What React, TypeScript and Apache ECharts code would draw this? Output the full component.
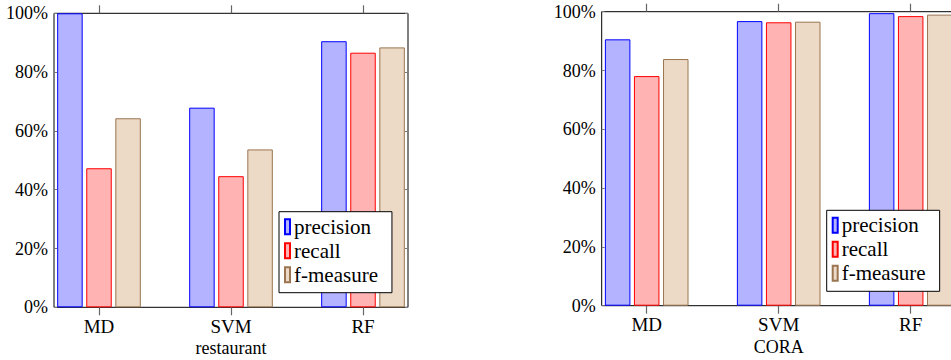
import React, { useEffect, useRef } from "react";
import * as echarts from "echarts";

const categories = ["MD", "SVM", "RF"];
const seriesNames = ["precision", "recall", "f-measure"];
const restaurantPrecision = [100, 67.9, 90.5];
const restaurantRecall = [47.3, 44.6, 86.6];
const restaurantFMeasure = [64.3, 53.7, 88.4];
const coraPrecision = [90.6, 96.8, 99.5];
const coraRecall = [78.1, 96.4, 98.5];
const coraFMeasure = [83.9, 96.6, 99.0];
const datasetNames = ["restaurant", "CORA"];
const yTicks = [0, 20, 40, 60, 80, 100];

const FONT = "'Liberation Serif', 'Times New Roman', serif";
const fills = ["#b3b3ff", "#ffb3b3", "#ecd9c6"];
const strokes = ["#0000ff", "#ff0000", "#9a7550"];

export default function App() {
  const ref = useRef<HTMLDivElement>(null);
  useEffect(() => {
    document.body.style.margin = "0";
    const chart = echarts.init(ref.current!, null, { renderer: "svg" });
    const frames = [
      { left: 54, top: 13.3, width: 354, height: 294 },
      { left: 601.7, top: 11.7, width: 354, height: 294 },
    ];
    const inset = 45;
    const grids: any[] = [];
    const xAxes: any[] = [];
    const yAxes: any[] = [];
    const series: any[] = [];
    const allData = [
      [restaurantPrecision, restaurantRecall, restaurantFMeasure],
      [coraPrecision, coraRecall, coraFMeasure],
    ];
    const xTickStyle = { color: "#666", width: 1.2 };
    const yTickStyle = { color: "#777", width: 1 };
    const hiddenLine = { show: true, onZero: false, lineStyle: { color: "rgba(0,0,0,0)", width: 1 } };

    frames.forEach((f, fi) => {
      const frameIdx = grids.length;
      grids.push({
        ...f,
        show: true,
        borderColor: "#000",
        borderWidth: 1,
        backgroundColor: "transparent",
        containLabel: false,
        outerBoundsMode: "none",
      });
      const dataIdx = grids.length;
      grids.push({
        left: f.left + inset,
        top: f.top,
        width: f.width - 2 * inset,
        height: f.height,
        show: false,
        containLabel: false,
        outerBoundsMode: "none",
      });

      xAxes.push({ type: "value", gridIndex: frameIdx, show: false, min: 0, max: 1 });
      yAxes.push({
        type: "value",
        gridIndex: frameIdx,
        position: "left",
        min: 0,
        max: 100,
        interval: 20,
        axisLine: hiddenLine,
        splitLine: { show: false },
        axisTick: { show: true, inside: true, length: 3, lineStyle: yTickStyle },
        axisLabel: {
          formatter: (v: number) => (yTicks.includes(v) ? v + "%" : ""),
          margin: 6,
          fontFamily: FONT,
          fontSize: 18,
          color: "#000",
        },
      });
      yAxes.push({
        type: "value",
        gridIndex: frameIdx,
        position: "right",
        min: 0,
        max: 100,
        interval: 20,
        axisLine: hiddenLine,
        splitLine: { show: false },
        axisTick: { show: true, inside: true, length: 3, lineStyle: yTickStyle },
        axisLabel: { show: false },
      });

      const xBottomIdx = xAxes.length;
      xAxes.push({
        type: "category",
        gridIndex: dataIdx,
        position: "bottom",
        data: categories,
        boundaryGap: false,
        axisLine: hiddenLine,
        splitLine: { show: false },
        axisTick: { show: true, inside: false, length: 8, interval: 0, lineStyle: xTickStyle },
        axisLabel: {
          interval: 0,
          margin: 10,
          fontFamily: FONT,
          fontSize: 19,
          lineHeight: 18,
          color: "#000",
        },
        name: datasetNames[fi],
        nameLocation: "middle",
        nameGap: 41,
        nameMoveOverlap: false,
        nameTextStyle: { fontFamily: FONT, fontSize: 18, lineHeight: 17, color: "#000", verticalAlign: "middle" },
      });
      xAxes.push({
        type: "category",
        gridIndex: dataIdx,
        position: "top",
        data: categories,
        boundaryGap: false,
        axisLine: hiddenLine,
        splitLine: { show: false },
        axisTick: { show: true, inside: false, length: 8, interval: 0, lineStyle: xTickStyle },
        axisLabel: { show: false },
      });
      const yDataIdx = yAxes.length;
      yAxes.push({ type: "value", gridIndex: dataIdx, min: 0, max: 100, show: false });

      allData[fi].forEach((vals, si) => {
        series.push({
          type: "bar",
          name: seriesNames[si],
          xAxisIndex: xBottomIdx,
          yAxisIndex: yDataIdx,
          barWidth: 25.5,
          barGap: "14%",
          data: vals,
          itemStyle: { color: fills[si], borderColor: strokes[si], borderWidth: 1 },
          emphasis: { disabled: true },
        });
      });
    });

    const legendBase = {
      orient: "vertical",
      icon: "rect",
      itemWidth: 5,
      itemHeight: 15,
      itemGap: 2,
      align: "left",
      backgroundColor: "#fff",
      borderColor: "#000",
      borderWidth: 1,
      borderRadius: 0,
      padding: [4, 14, 7, 5],
      selectedMode: false,
      data: seriesNames,
      textStyle: { fontFamily: FONT, fontSize: 21, lineHeight: 22, color: "#000", padding: [0, 0, 0, -1] },
    };

    chart.setOption({
      animation: false,
      grid: grids,
      xAxis: xAxes,
      yAxis: yAxes,
      legend: [
        { ...legendBase, left: 279, top: 211.7 },
        { ...legendBase, left: 826.7, top: 210.3 },
      ],
      series,
    });
    return () => chart.dispose();
  }, []);
  return <div ref={ref} style={{ width: 951, height: 360 }} />;
}
